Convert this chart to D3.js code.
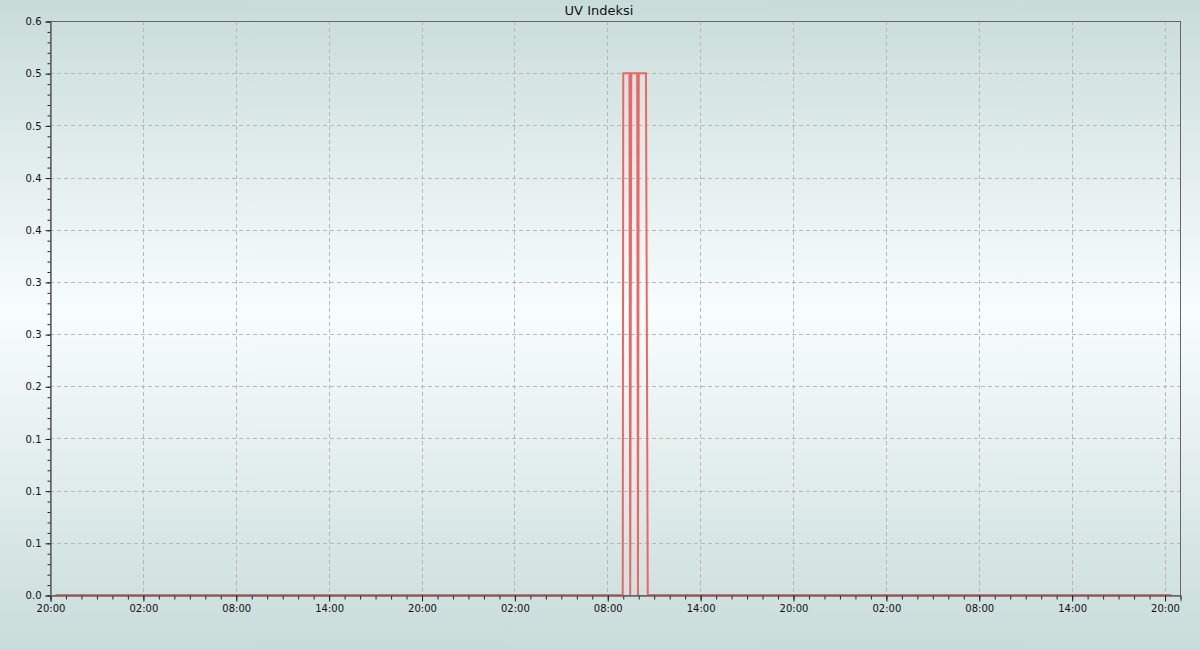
<!DOCTYPE html>
<html><head><meta charset="utf-8">
<script src="https://cdn.jsdelivr.net/npm/d3@7"></script>
<style>html,body{margin:0;padding:0;overflow:hidden;}</style>
</head><body>
<svg id="c" width="1200" height="650"></svg>
<script>
// ---- data ----
const chartTitle = "UV Indeksi";
const domainStart = "2024-06-10 20:00";
const domainEnd = "2024-06-13 21:00";
const times = [
  "2024-06-10 20:22","2024-06-12 09:00","2024-06-12 09:02","2024-06-12 09:26",
  "2024-06-12 09:29","2024-06-12 09:33","2024-06-12 09:56","2024-06-12 09:59",
  "2024-06-12 10:02","2024-06-12 10:30","2024-06-12 10:37","2024-06-13 20:28"
];
const uvValues = [0,0,0.5,0.5, 0,0.5,0.5,0, 0.5,0.5,0,0];
const yTickValues = [0,0.05,0.1,0.15,0.2,0.25,0.3,0.35,0.4,0.45,0.5,0.55];
const yTickLabels = ["0.0","0.1","0.1","0.1","0.2","0.3","0.3","0.4","0.4","0.5","0.5","0.6"];
const xTickLabels = ["20:00","02:00","08:00","14:00","20:00","02:00","08:00","14:00","20:00","02:00","08:00","14:00","20:00"];

// ---- drawing ----
const W=1200,H=650, m={l:50,r:20,t:21,b:55};
const parse=d3.utcParse("%Y-%m-%d %H:%M");
const svg=d3.select("#c");
const defs=svg.append("defs");
const g=defs.append("linearGradient").attr("id","bg").attr("x1",0).attr("y1",0).attr("x2",0).attr("y2",1);
g.append("stop").attr("offset","0%").attr("stop-color","#c8dcda");
g.append("stop").attr("offset","48%").attr("stop-color","#f8fdfd");
g.append("stop").attr("offset","100%").attr("stop-color","#c8dcda");
svg.append("rect").attr("width",W).attr("height",H).attr("fill","url(#bg)");

const t0=parse(domainStart), t1=parse(domainEnd);
const x=d3.scaleUtc().domain([t0,t1]).range([m.l,W-m.r]);
const y=d3.scaleLinear().domain([0,0.55]).range([H-m.b,m.t]);
const font="DejaVu Sans, sans-serif";
const HOUR=3600e3;
const majorX=xTickLabels.map((_,i)=>new Date(+t0+i*6*HOUR));
const minorX=d3.range(0,Math.floor((t1-t0)/HOUR)+1).map(i=>new Date(+t0+i*HOUR));
const minorY=d3.range(0,56).map(i=>i/100);

// grid
const grid=svg.append("g").attr("stroke","#b8b8b8").attr("stroke-dasharray","4,3").attr("stroke-width",1);
majorX.slice(1).forEach(t=>grid.append("line").attr("x1",Math.round(x(t))+0.5).attr("x2",Math.round(x(t))+0.5).attr("y1",m.t).attr("y2",H-m.b));
yTickValues.slice(1).forEach(v=>grid.append("line").attr("x1",m.l).attr("x2",W-m.r).attr("y1",Math.round(y(v))+0.5).attr("y2",Math.round(y(v))+0.5));

// line
const pts=times.map((t,i)=>({t:parse(t),v:uvValues[i]}));
svg.append("path").datum(pts).attr("fill","none").attr("stroke","#f06464").attr("stroke-width",2)
  .attr("d",d3.line().x(d=>x(d.t)).y(d=>y(d.v)));

// frame
svg.append("rect").attr("x",m.l+0.5).attr("y",m.t+0.5).attr("width",W-m.r-m.l).attr("height",H-m.b-m.t)
  .attr("fill","none").attr("stroke","#666").attr("stroke-width",1);

// axes
const xAxis=svg.append("g").attr("transform",`translate(0.5,${H-m.b+0.5})`);
xAxis.call(d3.axisBottom(x).tickValues(minorX).tickSize(4).tickFormat(""));
xAxis.append("g").call(d3.axisBottom(x).tickValues(majorX).tickSize(6).tickFormat((d,i)=>xTickLabels[i]));
xAxis.selectAll(".domain").attr("stroke","#666");
xAxis.selectAll(".tick line").attr("stroke","#222");
xAxis.selectAll("text").attr("font-family",font).attr("font-size",10).attr("fill","#111");

const yAxis=svg.append("g").attr("transform",`translate(${m.l+0.5},0.5)`);
yAxis.call(d3.axisLeft(y).tickValues(minorY).tickSize(3).tickFormat(""));
yAxis.append("g").call(d3.axisLeft(y).tickValues(yTickValues).tickSize(5).tickFormat((d,i)=>yTickLabels[i]));
yAxis.selectAll(".domain").attr("stroke","#666");
yAxis.selectAll(".tick line").attr("stroke","#222");
yAxis.selectAll("text").attr("font-family",font).attr("font-size",10).attr("fill","#111").attr("x",-9);

svg.append("text").attr("x",599).attr("y",15).attr("text-anchor","middle")
  .attr("font-family",font).attr("font-size",13).attr("fill","#111").text(chartTitle);
</script>
</body></html>
